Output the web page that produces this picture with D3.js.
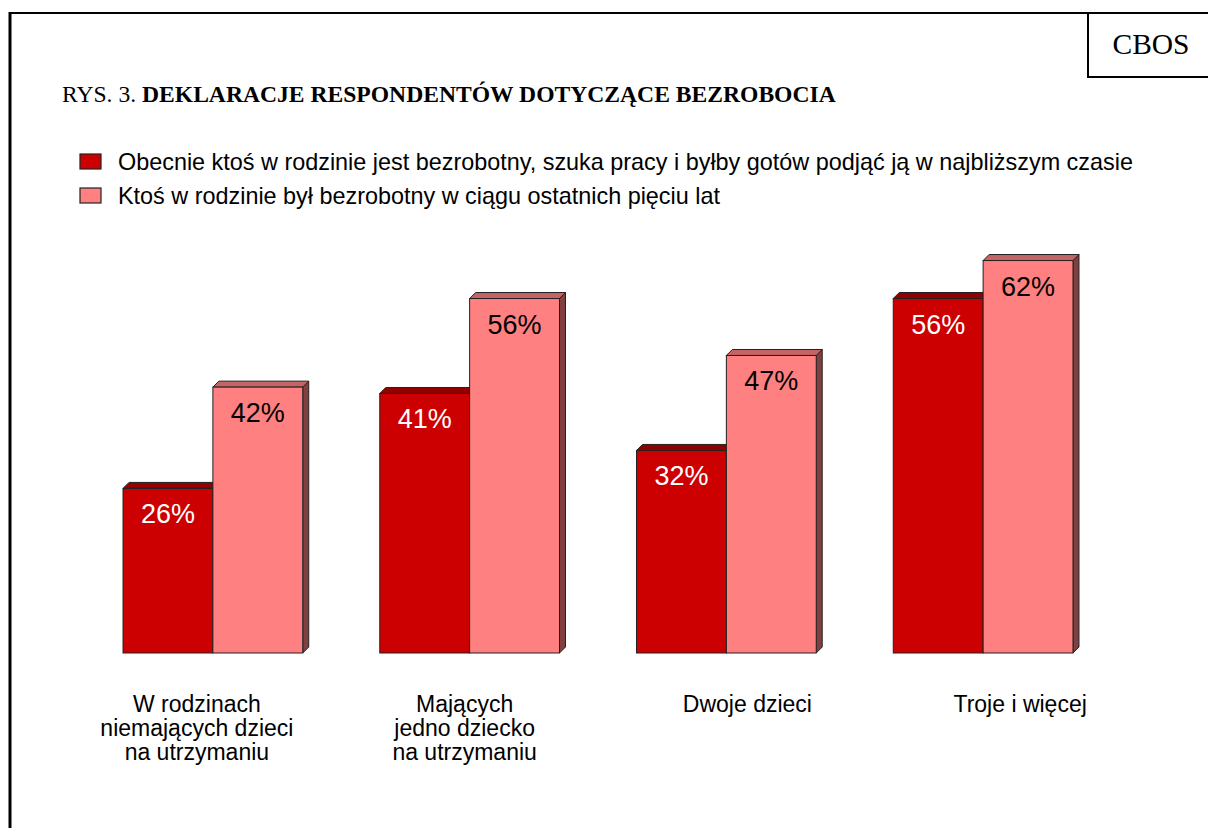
<!DOCTYPE html>
<html lang="pl">
<head>
<meta charset="UTF-8">
<title>Deklaracje respondentów dotyczące bezrobocia</title>
<script src="https://d3js.org/d3.v7.min.js"></script>
<style>
  body { margin: 0; background: #fff; }
  svg { display: block; }
</style>
</head>
<body>
<div id="chart"></div>
<script>
// data
var categories = [
  ["W rodzinach", "niemających dzieci", "na utrzymaniu"],
  ["Mających", "jedno dziecko", "na utrzymaniu"],
  ["Dwoje dzieci"],
  ["Troje i więcej"]
];
var seriesNames = [
  "Obecnie ktoś w rodzinie jest bezrobotny, szuka pracy i byłby gotów podjąć ją w najbliższym czasie",
  "Ktoś w rodzinie był bezrobotny w ciągu ostatnich pięciu lat"
];
var currentValues = [26, 41, 32, 56];
var pastValues = [42, 56, 47, 62];

var W = 1208, H = 828;
var svg = d3.select("#chart").append("svg")
  .attr("width", W).attr("height", H);

// frame (only top and left are visible)
svg.append("line").attr("x1", 10).attr("x2", 10).attr("y1", 12).attr("y2", H)
  .attr("stroke", "#000").attr("stroke-width", 3);
svg.append("line").attr("x1", 9).attr("x2", W).attr("y1", 13).attr("y2", 13)
  .attr("stroke", "#000").attr("stroke-width", 2);

// CBOS box
svg.append("path").attr("d", "M1088,13V77H" + W)
  .attr("fill", "none").attr("stroke", "#000").attr("stroke-width", 2);
svg.append("text").attr("x", 1151).attr("y", 54)
  .attr("text-anchor", "middle")
  .style("font-family", "Liberation Serif, Times New Roman, serif")
  .style("font-size", "29.5px")
  .text("CBOS");

// title
var title = svg.append("text").attr("x", 62).attr("y", 102)
  .style("font-family", "Liberation Serif, Times New Roman, serif")
  .style("font-size", "23.6px");
title.append("tspan").text("RYS. 3. ");
title.append("tspan").style("font-weight", "bold")
  .text("DEKLARACJE RESPONDENTÓW DOTYCZĄCE BEZROBOCIA");

// colours: front, top, side
var colors = [
  {front: "#cc0000", top: "#930000", side: "#6b0000"},
  {front: "#ff8080", top: "#c46464", side: "#804040"}
];

// legend
var legend = svg.append("g");
seriesNames.forEach(function(name, i) {
  var g = legend.append("g").attr("transform", "translate(80," + (154 + i * 34) + ")");
  g.append("rect").attr("width", 21).attr("height", 15)
    .attr("fill", colors[i].front).attr("stroke", "#222").attr("stroke-width", 1.2);
  g.append("text").attr("x", 38).attr("y", 16)
    .style("font-family", "Liberation Sans, Arial, sans-serif")
    .style("font-size", "23.4px")
    .text(name);
});

// scales
var x = d3.scaleBand()
  .domain(d3.range(categories.length))
  .range([46, 1150])
  .paddingInner(0.3)
  .paddingOuter(0.3);
var x1 = d3.scaleBand()
  .domain([0, 1])
  .range([0, x.bandwidth()]);
var y = d3.scaleLinear()
  .domain([0, 100])
  .range([653, 20]);

var depth = 6;
var data = categories.map(function(c, i) {
  return {i: i, values: [currentValues[i], pastValues[i]]};
});

var groups = svg.selectAll(".grp").data(data).enter().append("g")
  .attr("class", "grp")
  .attr("transform", function(d) { return "translate(" + x(d.i) + ",0)"; });

groups.each(function(d) {
  var g = d3.select(this);
  d.values.forEach(function(v, s) {
    var x0 = x1(s), bw = x1.bandwidth();
    var xr = x0 + bw, yt = y(v), yb = y(0);
    // side face
    g.append("path")
      .attr("d", "M" + xr + "," + yt + "L" + (xr + depth) + "," + (yt - depth) +
        "L" + (xr + depth) + "," + (yb - depth) + "L" + xr + "," + yb + "Z")
      .attr("fill", colors[s].side).attr("stroke", "#222").attr("stroke-width", 1);
    // top face
    g.append("path")
      .attr("d", "M" + x0 + "," + yt + "L" + (x0 + depth) + "," + (yt - depth) +
        "L" + (xr + depth) + "," + (yt - depth) + "L" + xr + "," + yt + "Z")
      .attr("fill", colors[s].top).attr("stroke", "#222").attr("stroke-width", 1);
    // front face
    g.append("rect")
      .attr("x", x0).attr("y", yt).attr("width", bw).attr("height", yb - yt)
      .attr("fill", colors[s].front).attr("stroke", "#222").attr("stroke-width", 1);
    // value label
    g.append("text")
      .attr("x", x0 + bw / 2).attr("y", yt + 35)
      .attr("text-anchor", "middle")
      .style("font-family", "Liberation Sans, Arial, sans-serif")
      .style("font-size", "27px")
      .attr("fill", s === 0 ? "#fff" : "#000")
      .text(v + "%");
  });
});

// category labels (hand nudged like the original text boxes)
var labelNudge = [-16, -5, 21, 37];
var catLabels = svg.selectAll(".cat").data(categories).enter().append("text")
  .attr("class", "cat")
  .attr("text-anchor", "middle")
  .style("font-family", "Liberation Sans, Arial, sans-serif")
  .style("font-size", "23px")
  .attr("transform", function(d, i) {
    return "translate(" + (x(i) + x.bandwidth() / 2 + labelNudge[i]) + ",712)";
  });
catLabels.selectAll("tspan").data(function(d) { return d; }).enter().append("tspan")
  .attr("x", 0)
  .attr("y", function(d, j) { return j * 24; })
  .text(function(d) { return d; });
</script>
</body>
</html>
